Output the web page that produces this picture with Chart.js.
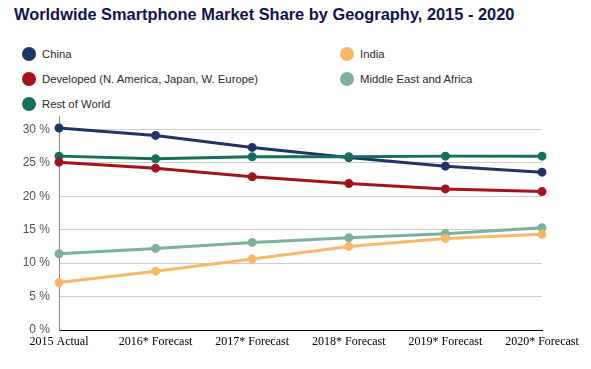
<!DOCTYPE html>
<html lang="en">
<head>
  <meta charset="UTF-8">
  <title>Worldwide Smartphone Market Share by Geography, 2015 - 2020</title>
  <script src="https://cdn.jsdelivr.net/npm/chart.js@4.4.0/dist/chart.umd.min.js"></script>
  <style>
    html, body { margin: 0; padding: 0; background: #fff; }
    #wrap { position: relative; width: 591px; height: 369px; overflow: hidden; }
    #title { position: absolute; left: 14px; top: 5px; text-align: left;
      font: bold 16.4px "Liberation Sans", Arial, sans-serif; color: #12124f; white-space: nowrap; }
    .leg { position: absolute; font: 11.3px "Liberation Sans", Arial, sans-serif; color: #2a2a2a; white-space: nowrap; line-height: 14px; }
    .leg i { position: absolute; left: -20px; top: 0px; width: 14px; height: 14px; border-radius: 50%; }
    canvas { position: absolute; left: 0; top: 0; }
  </style>
</head>
<body>
  <div id="wrap">
    <div id="title">Worldwide Smartphone Market Share by Geography, 2015 - 2020</div>
    <div id="legend"></div>
    <canvas id="chart" width="591" height="369"></canvas>
  </div>

  <script>
    const years = ['2015 Actual', '2016* Forecast', '2017* Forecast', '2018* Forecast', '2019* Forecast', '2020* Forecast'];
    const seriesNames = ['China', 'Developed (N. America, Japan, W. Europe)', 'Rest of World', 'India', 'Middle East and Africa'];
    const china = [30.2, 29.1, 27.3, 25.8, 24.5, 23.6];
    const developed = [25.1, 24.2, 22.9, 21.9, 21.1, 20.7];
    const restOfWorld = [26.0, 25.6, 25.9, 25.9, 26.0, 26.0];
    const india = [7.1, 8.8, 10.6, 12.5, 13.7, 14.3];
    const mea = [11.4, 12.2, 13.1, 13.8, 14.4, 15.3];
    const yTicks = [0, 5, 10, 15, 20, 25, 30];
    const colors = ['#1f3567', '#a3131b', '#13705a', '#f8b868', '#7cb19b'];

    // html legend: two columns like the original
    const legendPos = [[42, 47], [42, 72], [42, 97], [360, 47], [360, 72]];
    const legendEl = document.getElementById('legend');
    seriesNames.forEach((name, i) => {
      const d = document.createElement('div');
      d.className = 'leg';
      d.style.left = legendPos[i][0] + 'px';
      d.style.top = legendPos[i][1] + 'px';
      d.innerHTML = '<i style="background:' + colors[i] + '"></i>' + name;
      legendEl.appendChild(d);
    });

    const allData = [china, developed, restOfWorld, india, mea];
    // draw order: lighter lines under darker ones
    const order = [3, 4, 1, 2, 0];

    new Chart(document.getElementById('chart'), {
      type: 'line',
      data: {
        labels: years,
        datasets: order.map(i => ({
          label: seriesNames[i],
          data: allData[i],
          borderColor: colors[i],
          backgroundColor: colors[i],
          borderWidth: 3,
          pointRadius: 3,
          pointHoverRadius: 4,
          tension: 0
        }))
      },
      options: {
        responsive: false,
        animation: false,
        layout: { padding: { top: 116, right: 49, left: 0, bottom: 0 } },
        plugins: { legend: { display: false }, tooltip: { enabled: false } },
        scales: {
          x: {
            offset: false,
            grid: { display: false, drawTicks: false },
            border: { color: '#000', width: 1 },
            ticks: { color: '#000', padding: 5, maxRotation: 0, autoSkip: false,
              font: { family: '"Liberation Serif", "Times New Roman", serif', size: 12 } },
            afterFit: s => { s.height = 39; }
          },
          y: {
            min: 0,
            max: 32,
            ticks: { color: '#555', padding: 9, autoSkip: false,
              font: { family: '"Liberation Sans", Arial, sans-serif', size: 12 },
              callback: v => v + ' %' },
            afterBuildTicks: s => { s.ticks = yTicks.map(v => ({ value: v })); },
            grid: { color: '#cccccc', drawTicks: false },
            border: { color: '#888', width: 1 },
            afterFit: s => { s.width = 59; }
          }
        }
      }
    });
  </script>
</body>
</html>
